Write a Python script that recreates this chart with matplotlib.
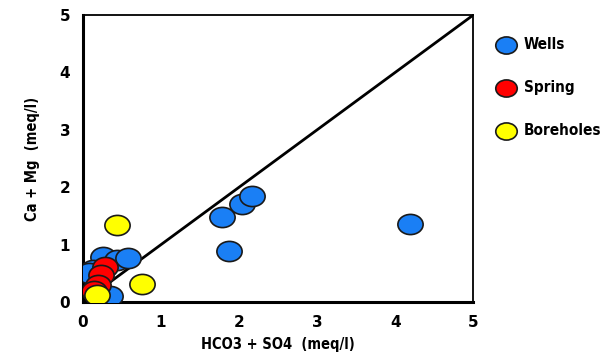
import matplotlib.pyplot as plt
import numpy as np
from matplotlib.path import Path
from matplotlib.transforms import Affine2D

# HCO3+SO4 vs Ca+Mg (meq/l) per water source
wells_x = [4.19, 1.78, 2.04, 2.17, 1.87, 0.26, 0.44, 0.58, 0.13, 0.08, 0.35]
wells_y = [1.36, 1.48, 1.71, 1.85, 0.89, 0.78, 0.73, 0.77, 0.56, 0.50, 0.10]
spring_x = [0.28, 0.24, 0.19, 0.15]
spring_y = [0.61, 0.47, 0.30, 0.19]
bore_x = [0.44, 0.76, 0.18]
bore_y = [1.34, 0.31, 0.12]

# slightly flattened ellipse used as marker
ellipse = Path.unit_circle().transformed(Affine2D().scale(1.25, 1.0))
label_font = ['DejaVu Sans']

fig = plt.figure(figsize=(6.13, 3.58), dpi=100)
ax = fig.add_axes([0.135, 0.156, 0.637, 0.802])

ax.plot([0, 5], [0, 5], color='black', lw=2, zorder=1)
ax.scatter(wells_x, wells_y, s=330, marker=ellipse, c='#1a7ff5', edgecolors='#1a1a1a', lw=1.2, zorder=3, label='Wells')
ax.scatter(spring_x, spring_y, s=330, marker=ellipse, c='#ff0000', edgecolors='#1a1a1a', lw=1.2, zorder=4, label='Spring')
ax.scatter(bore_x, bore_y, s=330, marker=ellipse, c='#ffff00', edgecolors='#1a1a1a', lw=1.2, zorder=5, label='Boreholes')

ax.set_xlim(0, 5)
ax.set_ylim(0, 5)
ax.set_xticks(range(6))
ax.set_yticks(range(6))
ax.tick_params(length=0, labelsize=11, pad=9)
for lab in ax.get_xticklabels() + ax.get_yticklabels():
    lab.set_fontweight('heavy')
for side in ['left', 'bottom']:
    ax.spines[side].set_linewidth(2.2)
for side in ['top', 'right']:
    ax.spines[side].set_linewidth(1.3)

ax.set_xlabel('HCO3 + SO4  (meq/l)', fontsize=10.5, family=label_font, fontstretch='condensed',
              fontweight='bold', labelpad=5)
ax.set_ylabel('Ca + Mg  (meq/l)', fontsize=10.5, family=label_font, fontstretch='condensed',
              fontweight='bold', labelpad=14)

leg = ax.legend(loc='upper left', bbox_to_anchor=(1.01, 0.972), frameon=False,
                labelspacing=1.85, handletextpad=0.15, markerscale=0.85,
                prop={'family': label_font, 'weight': 'bold', 'stretch': 'condensed', 'size': 11})

fig.savefig('out.png', dpi=100)
